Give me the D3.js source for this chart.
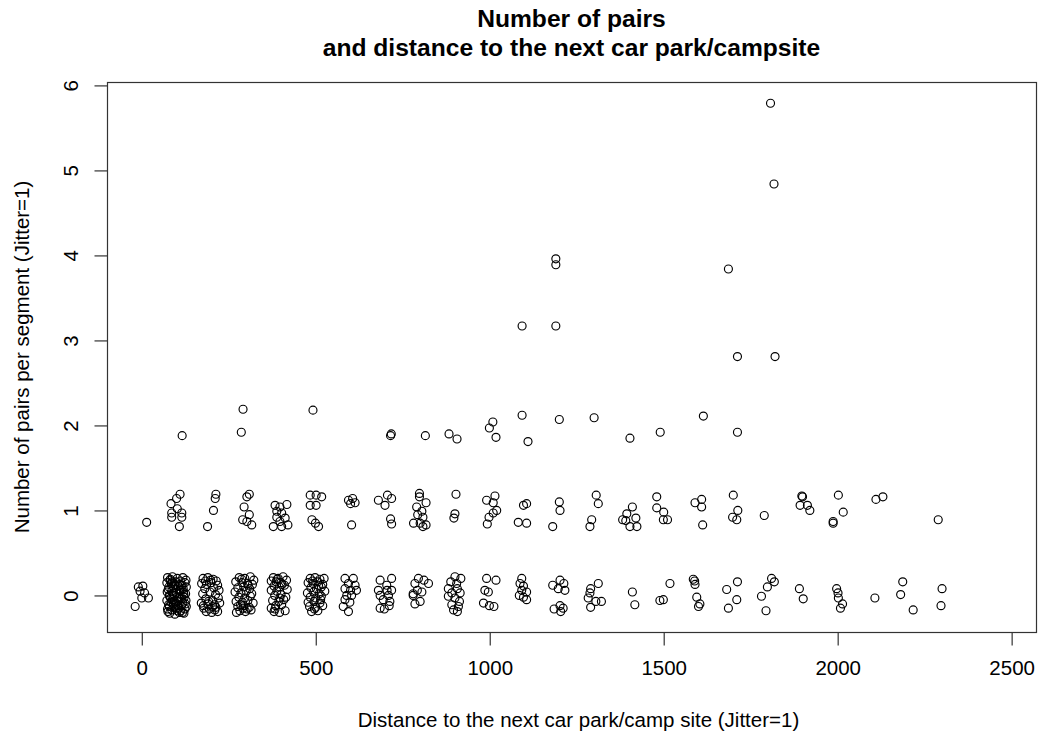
<!DOCTYPE html>
<html>
<head>
<meta charset="utf-8">
<script src="https://cdn.jsdelivr.net/npm/d3@7"></script>
<style>
  body { margin: 0; background: #fff; }
  text { font-family: "Liberation Sans", Arial, sans-serif; fill: #000; }
</style>
</head>
<body>
<div id="chart"></div>
<script>
// points near 0 pairs (distance, pairs), jittered
const zeroDist = [
  3, -10, -5, 8, 19, 0, -19,
  74, 88, 102, 118, 127, 72, 85, 97, 110, 124, 78, 92, 105, 119, 128, 73, 86, 99, 113, 126,
  80, 94, 107, 121, 72, 88, 101, 115, 127, 77, 91, 104, 118, 128, 74, 86, 99, 112, 124, 80, 95, 108, 121,
  81, 95, 111, 76, 90, 116, 83, 97, 109, 75, 93, 114, 82, 103, 125, 89, 117, 79,
  84, 100, 122, 96, 106, 87, 120, 102, 93, 110, 79, 98,
  176, 190, 205, 214, 172, 186, 199, 218, 181, 207, 222, 175, 196, 212, 184, 203, 220, 171, 190, 209, 224,
  178, 194, 213, 185, 201, 218, 183, 198, 210, 177, 204, 192,
  280, 296, 312, 322, 270, 288, 304, 318, 276, 293, 310, 268, 285, 300, 316, 279, 296, 312, 271, 289, 305, 320,
  276, 293, 309, 282, 298, 314, 272, 287, 303, 291, 306, 284,
  378, 392, 406, 372, 386, 400, 416, 380, 395, 410, 372, 388, 418, 382, 400, 414, 376, 394, 408, 385, 402, 372,
  380, 396, 412, 389, 403, 383, 397,
  484, 498, 512, 524, 478, 492, 506, 520, 486, 502, 516, 476, 494, 510, 526, 484, 500, 516, 478, 495, 512,
  482, 500, 520, 488, 506, 491, 508, 496, 514,
  584, 608, 594, 613, 584, 600, 617, 589, 603, 584, 598, 579, 594,
  685, 718, 704, 680, 705, 718, 685, 709, 694, 713, 685, 711, 697,
  795, 811, 785, 824, 792, 805, 780, 800, 785, 780,
  900, 917, 888, 905, 881, 907, 891, 915, 881, 900, 913, 891, 910, 896, 907,
  991, 1018, 986, 996, 982, 999, 1012,
  1092, 1087, 1097, 1092, 1106, 1085, 1097, 1106,
  1181, 1202, 1213, 1197, 1216, 1185, 1202, 1204, 1211,
  1312, 1290, 1288, 1283, 1305, 1321, 1290,
  1410, 1417,
  1518, 1489, 1499,
  1585, 1589, 1590, 1595, 1604, 1600,
  1712, 1681, 1710, 1686,
  1810, 1818, 1798, 1781, 1794,
  1890, 1901, 1997, 2001, 2002, 2014, 2008, 2107, 2187, 2181, 2217, 2300, 2297
];
const zeroPairs = [
  0.11, 0.10, 0.05, 0.03, -0.03, -0.03, -0.13,
  0.21, 0.22, 0.20, 0.21, 0.18, 0.15, 0.14, 0.16, 0.13, 0.15, 0.10, 0.09, 0.11, 0.08, 0.10, 0.04, 0.05, 0.03, 0.06, 0.02,
  -0.01, 0.00, -0.02, 0.01, -0.06, -0.05, -0.07, -0.04, -0.06, -0.11, -0.10, -0.12, -0.09, -0.13, -0.16, -0.17, -0.15, -0.18, -0.16, -0.21, -0.22, -0.20, -0.21,
  0.18, 0.12, 0.17, 0.07, 0.02, 0.12, -0.03, -0.09, 0.06, -0.19, -0.14, -0.12, 0.19, -0.04, -0.10, 0.11, -0.20, 0.00,
  -0.08, 0.07, -0.02, 0.13, -0.15, 0.16, 0.04, -0.18, -0.07, 0.02, -0.13, -0.11,
  0.20, 0.21, 0.19, 0.17, 0.14, 0.13, 0.15, 0.12, 0.08, 0.09, 0.06, 0.02, 0.04, 0.01, -0.04, -0.06, -0.03, -0.09, -0.10, -0.11, -0.09,
  -0.15, -0.16, -0.14, -0.19, -0.20, -0.19, 0.17, 0.18, -0.17, -0.12, -0.13, -0.07,
  0.21, 0.20, 0.22, 0.18, 0.16, 0.15, 0.14, 0.13, 0.09, 0.10, 0.08, 0.04, 0.03, 0.05, 0.02, -0.02, -0.03, -0.01, -0.07, -0.08, -0.06, -0.09,
  -0.13, -0.12, -0.14, -0.18, -0.19, -0.17, -0.20, 0.19, -0.16, -0.15, 0.12, -0.11,
  0.21, 0.20, 0.22, 0.17, 0.16, 0.15, 0.18, 0.11, 0.10, 0.12, 0.06, 0.05, 0.07, 0.00, 0.01, -0.02, -0.06, -0.07, -0.05, -0.12, -0.11, -0.15,
  -0.19, -0.20, -0.18, 0.19, 0.13, -0.16, -0.03,
  0.20, 0.21, 0.19, 0.20, 0.15, 0.14, 0.16, 0.13, 0.09, 0.08, 0.10, 0.03, 0.04, 0.02, 0.05, -0.02, -0.03, -0.01, -0.08, -0.07, -0.09,
  -0.13, -0.14, -0.12, -0.19, -0.18, 0.17, 0.12, -0.16, -0.05,
  0.20, 0.20, 0.14, 0.12, 0.08, 0.06, 0.06, 0.00, 0.00, -0.05, -0.08, -0.13, -0.19,
  0.18, 0.20, 0.12, 0.06, 0.06, 0.06, 0.00, 0.00, -0.05, -0.07, -0.15, -0.12, -0.16,
  0.20, 0.18, 0.14, 0.14, 0.06, 0.04, 0.00, -0.07, -0.10, 0.02,
  0.22, 0.20, 0.16, 0.14, 0.08, 0.08, 0.03, 0.03, -0.01, -0.03, -0.07, -0.11, -0.13, -0.17, -0.19,
  0.20, 0.18, 0.06, 0.04, -0.09, -0.12, -0.13,
  0.20, 0.14, 0.11, 0.06, 0.04, 0.00, -0.02, -0.05,
  0.12, 0.18, 0.14, 0.08, 0.06, -0.16, -0.12, -0.19, -0.15,
  0.14, 0.08, 0.03, -0.03, -0.07, -0.07, -0.14,
  0.04, -0.11,
  0.14, -0.06, -0.05,
  0.19, 0.17, 0.13, -0.02, -0.10, -0.13,
  0.16, 0.07, -0.05, -0.15,
  0.20, 0.16, 0.10, -0.01, -0.18,
  0.08, -0.04, 0.08, 0.03, -0.03, -0.10, -0.15, -0.03, 0.16, 0.01, -0.17, 0.08, -0.12
];

// points near 1 pair
const oneDist = [
  14,
  110, 100, 84, 102, 86, 115, 86, 115, 108,
  213, 211, 206, 189,
  309, 302, 294, 309, 290, 302, 316,
  383, 397, 388, 402, 388, 412, 397, 378, 402, 420, 417,
  484, 501, 517, 484, 501, 489, 499, 508,
  594, 606, 613, 600, 603,
  680, 706, 718, 699, 715, 718,
  798, 798, 817, 790, 805, 793, 808, 781, 800, 817, 808,
  903, 900, 897,
  1015, 991, 1010, 1020, 1010, 998, 993,
  1106, 1097, 1082, 1106,
  1200, 1202, 1181,
  1306, 1312, 1293, 1288,
  1410, 1394, 1382, 1391, 1420, 1403, 1423,
  1480, 1480, 1500, 1499, 1511,
  1590, 1609, 1609, 1612,
  1700, 1713, 1698, 1710,
  1789,
  1897, 1899, 1892, 1913, 1920,
  2002, 2016, 1987, 1987,
  2110, 2130,
  2289
];
const onePairs = [
  0.86,
  1.19, 1.14, 1.08, 1.02, 0.97, 0.97, 0.92, 0.92, 0.81,
  1.19, 1.14, 1.00, 0.81,
  1.19, 1.16, 1.04, 0.95, 0.89, 0.87, 0.83,
  1.06, 1.04, 0.99, 0.97, 0.92, 0.91, 0.87, 0.81, 0.81, 0.83, 1.07,
  1.18, 1.18, 1.16, 1.06, 1.06, 0.89, 0.85, 0.81,
  1.12, 1.14, 1.09, 1.08, 0.83,
  1.12, 1.18, 1.14, 1.06, 0.90, 0.84,
  1.20, 1.16, 1.09, 1.04, 0.99, 0.95, 0.92, 0.85, 0.85, 0.83, 0.81,
  1.19, 0.96, 0.91,
  1.17, 1.12, 1.09, 1.00, 0.97, 0.92, 0.84,
  1.08, 1.06, 0.86, 0.85,
  1.10, 1.00, 0.81,
  1.18, 1.08, 0.89, 0.81,
  1.04, 0.96, 0.89, 0.88, 0.91, 0.81, 0.81,
  1.16, 1.03, 0.98, 0.89, 0.89,
  1.09, 1.13, 1.04, 0.83,
  1.18, 1.00, 0.92, 0.89,
  0.94,
  1.17, 1.16, 1.06, 1.06, 1.00,
  1.18, 0.98, 0.87, 0.85,
  1.13, 1.16,
  0.89
];

// points at 2 or more pairs
const highDist = [116, 291, 286, 492, 715, 717, 815, 883, 906, 999, 1009, 1018, 1093, 1110, 1093,
  1200, 1190, 1190, 1190, 1300, 1403, 1490, 1614, 1712, 1686, 1712, 1820, 1807, 1817];
const highPairs = [1.88, 2.19, 1.92, 2.18, 1.88, 1.90, 1.88, 1.90, 1.84, 1.97, 2.04, 1.86, 2.12, 1.81, 3.17,
  2.07, 3.96, 3.89, 3.17, 2.09, 1.85, 1.92, 2.11, 1.92, 3.84, 2.81, 2.81, 5.79, 4.84];

const xTicks = [0, 500, 1000, 1500, 2000, 2500];
const yTicks = [0, 1, 2, 3, 4, 5, 6];

const w = 1038;
const h = 735;
const plotLeft = 107, plotRight = 1036, plotTop = 82, plotBottom = 632;
const fontBase = 20.5;

const xScale = d3.scaleLinear()
                .domain([-100, 2570])
                .range([plotLeft, plotRight]);

const yScale = d3.scaleLinear()
                .domain([-0.43, 6.04])
                .range([plotBottom, plotTop]);

const svg = d3.select("#chart")
                .append("svg")
                .attr("width", w)
                .attr("height", h);

// points
let points = [];
zeroDist.forEach((d, i) => points.push([d, zeroPairs[i]]));
oneDist.forEach((d, i) => points.push([d, onePairs[i]]));
highDist.forEach((d, i) => points.push([d, highPairs[i]]));

svg.append("g")
    .selectAll("circle")
    .data(points)
    .enter()
    .append("circle")
    .attr("cx", d => xScale(d[0]))
    .attr("cy", d => yScale(d[1]))
    .attr("r", 4)
    .attr("fill", "none")
    .attr("stroke", "#000")
    .attr("stroke-width", 1.15);

// box
svg.append("rect")
    .attr("x", plotLeft + 0.5)
    .attr("y", plotTop + 0.5)
    .attr("width", plotRight - plotLeft)
    .attr("height", plotBottom - plotTop)
    .attr("fill", "none")
    .attr("stroke", "#333")
    .attr("stroke-width", 1.2);

const xAxis = d3.axisBottom(xScale)
                .tickValues(xTicks)
                .tickFormat(d3.format("d"))
                .tickSize(13)
                .tickPadding(15)
                .tickSizeOuter(0);

const yAxis = d3.axisLeft(yScale)
                .tickValues(yTicks)
                .tickFormat(d3.format("d"))
                .tickSize(13)
                .tickSizeOuter(0);

const gx = svg.append("g")
    .attr("transform", "translate(0," + (plotBottom + 0.5) + ")")
    .call(xAxis);
gx.select(".domain").remove();
gx.selectAll("line").attr("stroke", "#333").attr("stroke-width", 1.2);
gx.selectAll("text")
    .style("font-size", fontBase + "px")
    .style("font-family", "Liberation Sans, Arial, sans-serif")
    .attr("fill", "#000");

const gy = svg.append("g")
    .attr("transform", "translate(" + (plotLeft + 0.5) + ",0)")
    .call(yAxis);
gy.select(".domain").remove();
gy.selectAll("line").attr("stroke", "#333").attr("stroke-width", 1.2);
gy.selectAll("text")
    .style("font-size", fontBase + "px")
    .style("font-family", "Liberation Sans, Arial, sans-serif")
    .attr("fill", "#000")
    .attr("x", 0)
    .attr("dy", 0)
    .style("text-anchor", "middle")
    .attr("transform", "translate(-30,0) rotate(-90)");

// titles
svg.append("text")
    .text("Number of pairs")
    .style("text-anchor", "middle")
    .style("font-weight", "bold")
    .style("font-size", (fontBase * 1.2) + "px")
    .attr("x", (plotLeft + plotRight) / 2)
    .attr("y", 27);

svg.append("text")
    .text("and distance to the next car park/campsite")
    .style("text-anchor", "middle")
    .style("font-weight", "bold")
    .style("font-size", (fontBase * 1.2) + "px")
    .attr("x", (plotLeft + plotRight) / 2)
    .attr("y", 56);

svg.append("text")
    .text("Distance to the next car park/camp site (Jitter=1)")
    .style("text-anchor", "middle")
    .style("font-size", fontBase + "px")
    .attr("x", (plotLeft + plotRight) / 2 + 7)
    .attr("y", 727);

svg.append("text")
    .text("Number of pairs per segment (Jitter=1)")
    .style("text-anchor", "middle")
    .style("font-size", fontBase + "px")
    .attr("transform", "rotate(-90)")
    .attr("x", -(plotTop + plotBottom) / 2)
    .attr("y", 29);
</script>
</body>
</html>
